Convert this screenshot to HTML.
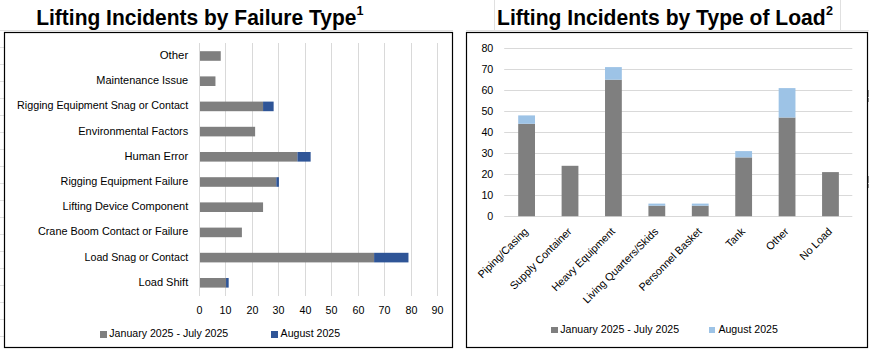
<!DOCTYPE html>
<html><head><meta charset="utf-8"><style>
html,body{margin:0;padding:0;background:#fff;width:869px;height:353px;overflow:hidden}
svg{display:block;font-family:"Liberation Sans",sans-serif}
</style></head><body>
<svg width="869" height="353" viewBox="0 0 869 353">
<g stroke="#e0e0e0" stroke-width="1" shape-rendering="crispEdges">
<line x1="0" y1="30.5" x2="453" y2="30.5"/>
<line x1="466" y1="30.5" x2="869" y2="30.5"/>
<line x1="494.5" y1="0" x2="494.5" y2="30"/>
<line x1="840.5" y1="0" x2="840.5" y2="30"/>
<line x1="0" y1="47.5" x2="4" y2="47.5"/>
<line x1="0" y1="64.5" x2="4" y2="64.5"/>
<line x1="0" y1="81.5" x2="4" y2="81.5"/>
<line x1="0" y1="98.5" x2="4" y2="98.5"/>
<line x1="0" y1="115.5" x2="4" y2="115.5"/>
<line x1="0" y1="132.5" x2="4" y2="132.5"/>
<line x1="0" y1="149.5" x2="4" y2="149.5"/>
<line x1="0" y1="166.5" x2="4" y2="166.5"/>
<line x1="0" y1="183.5" x2="4" y2="183.5"/>
<line x1="0" y1="200.5" x2="4" y2="200.5"/>
<line x1="0" y1="217.5" x2="4" y2="217.5"/>
<line x1="0" y1="234.5" x2="4" y2="234.5"/>
<line x1="0" y1="251.5" x2="4" y2="251.5"/>
<line x1="0" y1="268.5" x2="4" y2="268.5"/>
<line x1="0" y1="285.5" x2="4" y2="285.5"/>
<line x1="0" y1="302.5" x2="4" y2="302.5"/>
<line x1="0" y1="319.5" x2="4" y2="319.5"/>
<line x1="0" y1="336.5" x2="4" y2="336.5"/>
</g>
<text x="36.2" y="24.8" textLength="320.2" lengthAdjust="spacingAndGlyphs" font-family="Liberation Sans" font-weight="bold" font-size="21.6" fill="#000">Lifting Incidents by Failure Type</text>
<text x="356.6" y="14.8" font-family="Liberation Sans" font-weight="bold" font-size="12.6" fill="#000">1</text>
<text x="497.1" y="24.8" textLength="328.6" lengthAdjust="spacingAndGlyphs" font-family="Liberation Sans" font-weight="bold" font-size="21.6" fill="#000">Lifting Incidents by Type of Load</text>
<text x="826.1" y="14.8" font-family="Liberation Sans" font-weight="bold" font-size="12.6" fill="#000">2</text>
<rect x="4.5" y="32.5" width="448" height="315" fill="#fff" stroke="#000" stroke-width="1.2"/>
<rect x="466.5" y="32.5" width="401" height="315" fill="#fff" stroke="#000" stroke-width="1.2"/>
<g stroke="#d9d9d9" stroke-width="1">
<line x1="199.50" y1="43" x2="199.50" y2="296"/>
<line x1="225.50" y1="43" x2="225.50" y2="296"/>
<line x1="252.50" y1="43" x2="252.50" y2="296"/>
<line x1="278.50" y1="43" x2="278.50" y2="296"/>
<line x1="305.50" y1="43" x2="305.50" y2="296"/>
<line x1="331.50" y1="43" x2="331.50" y2="296"/>
<line x1="358.50" y1="43" x2="358.50" y2="296"/>
<line x1="384.50" y1="43" x2="384.50" y2="296"/>
<line x1="411.50" y1="43" x2="411.50" y2="296"/>
<line x1="437.50" y1="43" x2="437.50" y2="296"/>
</g>
<rect x="200" y="51.20" width="20.75" height="9.6" fill="#7f7f7f"/>
<text x="188.2" y="59.00" text-anchor="end" textLength="28.5" lengthAdjust="spacingAndGlyphs" font-family="Liberation Sans" font-size="11.2" fill="#000">Other</text>
<rect x="200" y="76.40" width="15.46" height="9.6" fill="#7f7f7f"/>
<text x="188.2" y="84.20" text-anchor="end" textLength="91.9" lengthAdjust="spacingAndGlyphs" font-family="Liberation Sans" font-size="11.2" fill="#000">Maintenance Issue</text>
<rect x="200" y="101.60" width="63.06" height="9.6" fill="#7f7f7f"/>
<rect x="263.06" y="101.60" width="10.58" height="9.6" fill="#2f5597"/>
<text x="188.2" y="109.40" text-anchor="end" textLength="171.1" lengthAdjust="spacingAndGlyphs" font-family="Liberation Sans" font-size="11.2" fill="#000">Rigging Equipment Snag or Contact</text>
<rect x="200" y="126.80" width="55.12" height="9.6" fill="#7f7f7f"/>
<text x="188.2" y="134.60" text-anchor="end" textLength="109.9" lengthAdjust="spacingAndGlyphs" font-family="Liberation Sans" font-size="11.2" fill="#000">Environmental Factors</text>
<rect x="200" y="152.00" width="97.43" height="9.6" fill="#7f7f7f"/>
<rect x="297.43" y="152.00" width="13.22" height="9.6" fill="#2f5597"/>
<text x="188.2" y="159.80" text-anchor="end" textLength="63.6" lengthAdjust="spacingAndGlyphs" font-family="Liberation Sans" font-size="11.2" fill="#000">Human Error</text>
<rect x="200" y="177.20" width="76.28" height="9.6" fill="#7f7f7f"/>
<rect x="276.28" y="177.20" width="2.64" height="9.6" fill="#2f5597"/>
<text x="188.2" y="185.00" text-anchor="end" textLength="127.6" lengthAdjust="spacingAndGlyphs" font-family="Liberation Sans" font-size="11.2" fill="#000">Rigging Equipment Failure</text>
<rect x="200" y="202.40" width="63.06" height="9.6" fill="#7f7f7f"/>
<text x="188.2" y="210.20" text-anchor="end" textLength="125.6" lengthAdjust="spacingAndGlyphs" font-family="Liberation Sans" font-size="11.2" fill="#000">Lifting Device Component</text>
<rect x="200" y="227.60" width="41.90" height="9.6" fill="#7f7f7f"/>
<text x="188.2" y="235.40" text-anchor="end" textLength="150.3" lengthAdjust="spacingAndGlyphs" font-family="Liberation Sans" font-size="11.2" fill="#000">Crane Boom Contact or Failure</text>
<rect x="200" y="252.80" width="174.10" height="9.6" fill="#7f7f7f"/>
<rect x="374.10" y="252.80" width="34.37" height="9.6" fill="#2f5597"/>
<text x="188.2" y="260.60" text-anchor="end" textLength="103.6" lengthAdjust="spacingAndGlyphs" font-family="Liberation Sans" font-size="11.2" fill="#000">Load Snag or Contact</text>
<rect x="200" y="278.00" width="26.04" height="9.6" fill="#7f7f7f"/>
<rect x="226.04" y="278.00" width="2.64" height="9.6" fill="#2f5597"/>
<text x="188.2" y="285.80" text-anchor="end" textLength="49.7" lengthAdjust="spacingAndGlyphs" font-family="Liberation Sans" font-size="11.2" fill="#000">Load Shift</text>
<text x="199.50" y="314" text-anchor="middle" font-family="Liberation Sans" font-size="10.7" fill="#000">0</text>
<text x="225.50" y="314" text-anchor="middle" font-family="Liberation Sans" font-size="10.7" fill="#000">10</text>
<text x="252.50" y="314" text-anchor="middle" font-family="Liberation Sans" font-size="10.7" fill="#000">20</text>
<text x="278.50" y="314" text-anchor="middle" font-family="Liberation Sans" font-size="10.7" fill="#000">30</text>
<text x="305.50" y="314" text-anchor="middle" font-family="Liberation Sans" font-size="10.7" fill="#000">40</text>
<text x="331.50" y="314" text-anchor="middle" font-family="Liberation Sans" font-size="10.7" fill="#000">50</text>
<text x="358.50" y="314" text-anchor="middle" font-family="Liberation Sans" font-size="10.7" fill="#000">60</text>
<text x="384.50" y="314" text-anchor="middle" font-family="Liberation Sans" font-size="10.7" fill="#000">70</text>
<text x="411.50" y="314" text-anchor="middle" font-family="Liberation Sans" font-size="10.7" fill="#000">80</text>
<text x="437.50" y="314" text-anchor="middle" font-family="Liberation Sans" font-size="10.7" fill="#000">90</text>
<rect x="100" y="331" width="7" height="7" fill="#7f7f7f"/>
<text x="109.3" y="336.9" font-family="Liberation Sans" font-size="10.6" fill="#000">January 2025 - July 2025</text>
<rect x="271" y="331" width="7" height="7" fill="#2f5597"/>
<text x="280.6" y="336.9" font-family="Liberation Sans" font-size="10.6" fill="#000">August 2025</text>
<g stroke="#d9d9d9" stroke-width="1">
<line x1="504.2" y1="216.50" x2="852.3" y2="216.50"/>
<text x="493.3" y="220" text-anchor="end" stroke="none" font-family="Liberation Sans" font-size="10.7" fill="#000">0</text>
<line x1="504.2" y1="195.50" x2="852.3" y2="195.50"/>
<text x="493.3" y="199" text-anchor="end" stroke="none" font-family="Liberation Sans" font-size="10.7" fill="#000">10</text>
<line x1="504.2" y1="174.50" x2="852.3" y2="174.50"/>
<text x="493.3" y="178" text-anchor="end" stroke="none" font-family="Liberation Sans" font-size="10.7" fill="#000">20</text>
<line x1="504.2" y1="153.50" x2="852.3" y2="153.50"/>
<text x="493.3" y="157" text-anchor="end" stroke="none" font-family="Liberation Sans" font-size="10.7" fill="#000">30</text>
<line x1="504.2" y1="132.50" x2="852.3" y2="132.50"/>
<text x="493.3" y="136" text-anchor="end" stroke="none" font-family="Liberation Sans" font-size="10.7" fill="#000">40</text>
<line x1="504.2" y1="111.50" x2="852.3" y2="111.50"/>
<text x="493.3" y="115" text-anchor="end" stroke="none" font-family="Liberation Sans" font-size="10.7" fill="#000">50</text>
<line x1="504.2" y1="90.50" x2="852.3" y2="90.50"/>
<text x="493.3" y="94" text-anchor="end" stroke="none" font-family="Liberation Sans" font-size="10.7" fill="#000">60</text>
<line x1="504.2" y1="69.50" x2="852.3" y2="69.50"/>
<text x="493.3" y="73" text-anchor="end" stroke="none" font-family="Liberation Sans" font-size="10.7" fill="#000">70</text>
<line x1="504.2" y1="48.50" x2="852.3" y2="48.50"/>
<text x="493.3" y="52" text-anchor="end" stroke="none" font-family="Liberation Sans" font-size="10.7" fill="#000">80</text>
</g>
<rect x="518.20" y="123.80" width="16.8" height="92.40" fill="#7f7f7f"/>
<rect x="518.20" y="115.40" width="16.8" height="8.40" fill="#9dc3e6"/>
<text transform="translate(526.10,229.5) rotate(-45)" x="0" y="3.8" text-anchor="end" font-family="Liberation Sans" font-size="10.7" fill="#000">Piping/Casing</text>
<rect x="561.61" y="165.80" width="16.8" height="50.40" fill="#7f7f7f"/>
<text transform="translate(569.51,229.5) rotate(-45)" x="0" y="3.8" text-anchor="end" font-family="Liberation Sans" font-size="10.7" fill="#000">Supply Container</text>
<rect x="605.02" y="79.70" width="16.8" height="136.50" fill="#7f7f7f"/>
<rect x="605.02" y="67.10" width="16.8" height="12.60" fill="#9dc3e6"/>
<text transform="translate(612.92,229.5) rotate(-45)" x="0" y="3.8" text-anchor="end" font-family="Liberation Sans" font-size="10.7" fill="#000">Heavy Equipment</text>
<rect x="648.43" y="205.70" width="16.8" height="10.50" fill="#7f7f7f"/>
<rect x="648.43" y="203.60" width="16.8" height="2.10" fill="#9dc3e6"/>
<text transform="translate(656.33,229.5) rotate(-45)" x="0" y="3.8" text-anchor="end" font-family="Liberation Sans" font-size="10.7" fill="#000">Living Quarters/Skids</text>
<rect x="691.84" y="205.70" width="16.8" height="10.50" fill="#7f7f7f"/>
<rect x="691.84" y="203.60" width="16.8" height="2.10" fill="#9dc3e6"/>
<text transform="translate(699.74,229.5) rotate(-45)" x="0" y="3.8" text-anchor="end" font-family="Liberation Sans" font-size="10.7" fill="#000">Personnel Basket</text>
<rect x="735.25" y="157.40" width="16.8" height="58.80" fill="#7f7f7f"/>
<rect x="735.25" y="151.10" width="16.8" height="6.30" fill="#9dc3e6"/>
<text transform="translate(743.15,229.5) rotate(-45)" x="0" y="3.8" text-anchor="end" font-family="Liberation Sans" font-size="10.7" fill="#000">Tank</text>
<rect x="778.66" y="117.50" width="16.8" height="98.70" fill="#7f7f7f"/>
<rect x="778.66" y="88.10" width="16.8" height="29.40" fill="#9dc3e6"/>
<text transform="translate(786.56,229.5) rotate(-45)" x="0" y="3.8" text-anchor="end" font-family="Liberation Sans" font-size="10.7" fill="#000">Other</text>
<rect x="822.07" y="172.10" width="16.8" height="44.10" fill="#7f7f7f"/>
<text transform="translate(829.97,229.5) rotate(-45)" x="0" y="3.8" text-anchor="end" font-family="Liberation Sans" font-size="10.7" fill="#000">No Load</text>
<rect x="551" y="327" width="7" height="6" fill="#7f7f7f"/>
<text x="560.2" y="332.8" font-family="Liberation Sans" font-size="10.6" fill="#000">January 2025 - July 2025</text>
<rect x="709" y="327" width="6" height="6" fill="#9dc3e6"/>
<text x="718.4" y="332.8" font-family="Liberation Sans" font-size="10.6" fill="#000">August 2025</text>
<rect x="868" y="90" width="1" height="7" fill="#8a8a8a"/>
<rect x="868" y="98" width="1" height="4" fill="#8a8a8a"/>
<rect x="868" y="176" width="1" height="7" fill="#8a8a8a"/>
<rect x="868" y="184" width="1" height="4" fill="#8a8a8a"/>
</svg>
</body></html>
